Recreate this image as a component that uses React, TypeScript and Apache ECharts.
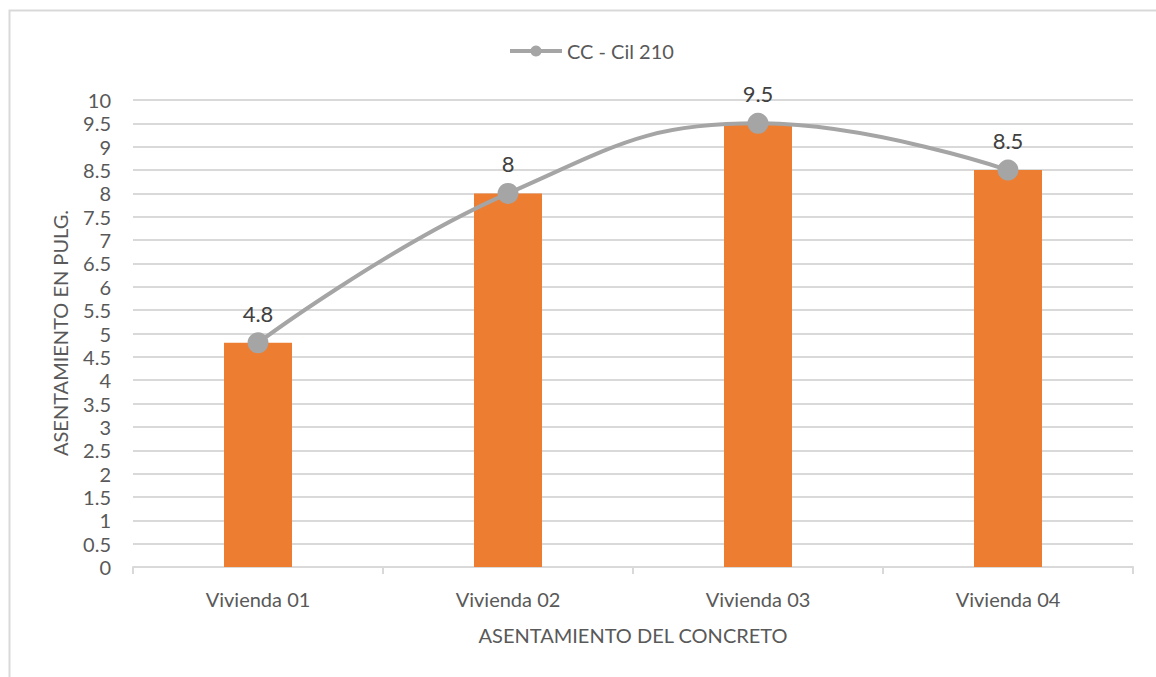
import React, { useEffect, useRef } from "react";
import * as echarts from "echarts";

const categories = ["Vivienda 01", "Vivienda 02", "Vivienda 03", "Vivienda 04"];
const barValues = [4.8, 8, 9.5, 8.5];
const lineValues = [4.8, 8, 9.5, 8.5];
const seriesName = "CC - Cil 210";
const yAxisTitle = "ASENTAMIENTO EN PULG.";
const xAxisTitle = "ASENTAMIENTO DEL CONCRETO";

const FONT = "Lato, 'Open Sans', sans-serif";

export default function App() {
  const ref = useRef<HTMLDivElement>(null);
  useEffect(() => {
    if (!ref.current) return;
    const chart = echarts.init(ref.current, null, { renderer: "svg" });
    chart.setOption({
      animation: false,
      backgroundColor: "#ffffff",
      textStyle: { fontFamily: FONT },
      graphic: [
        {
          type: "rect",
          shape: { x: 9.5, y: 10.5, width: 1200, height: 700 },
          style: { fill: "none", stroke: "#D9D9D9", lineWidth: 2 },
          silent: true,
          z: -1,
        },
        {
          type: "text",
          x: 60,
          y: 333,
          rotation: Math.PI / 2,
          style: {
            text: yAxisTitle,
            fill: "#595959",
            fontSize: 20,
            fontFamily: FONT,
            align: "center",
            verticalAlign: "middle",
          },
        },
      ],
      legend: {
        left: 503,
        top: 36,
        data: [{ name: seriesName }],
        itemWidth: 52,
        itemHeight: 14,
        itemGap: 5,
        lineStyle: { width: 4 },
        textStyle: { color: "#595959", fontSize: 20, fontFamily: FONT },
      },
      grid: { left: 133, right: 23, top: 100, bottom: 110, containLabel: false },
      xAxis: {
        type: "category",
        data: categories,
        name: xAxisTitle,
        nameLocation: "middle",
        nameGap: 58,
        nameTextStyle: { color: "#595959", fontSize: 20, fontFamily: FONT },
        axisLine: { lineStyle: { color: "#D9D9D9", width: 2 } },
        axisTick: { show: true, alignWithLabel: false, length: 7, lineStyle: { color: "#D9D9D9", width: 2 } },
        axisLabel: { color: "#595959", fontSize: 20, margin: 22, fontFamily: FONT },
      },
      yAxis: {
        type: "value",
        min: 0,
        max: 10,
        interval: 0.5,
        axisLine: { show: false },
        axisTick: { show: false },
        axisLabel: { color: "#595959", fontSize: 20, margin: 22, fontFamily: FONT },
        splitLine: { lineStyle: { color: "#D9D9D9", width: 2 } },
      },
      series: [
        {
          type: "bar",
          name: "bars",
          data: barValues,
          barWidth: 68,
          itemStyle: { color: "#ED7D31" },
          z: 2,
        },
        {
          type: "line",
          name: seriesName,
          data: lineValues,
          smooth: 0.45,
          symbol: "circle",
          symbolSize: 21,
          lineStyle: { color: "#A5A5A5", width: 4 },
          itemStyle: { color: "#A5A5A5" },
          label: {
            show: true,
            position: "top",
            distance: 8,
            color: "#404040",
            fontSize: 22,
            fontFamily: FONT,
          },
          z: 3,
        },
      ],
    });
    return () => chart.dispose();
  }, []);
  return (
    <div
      ref={ref}
      style={{ position: "absolute", left: 0, top: 0, width: 1156, height: 677 }}
    />
  );
}
